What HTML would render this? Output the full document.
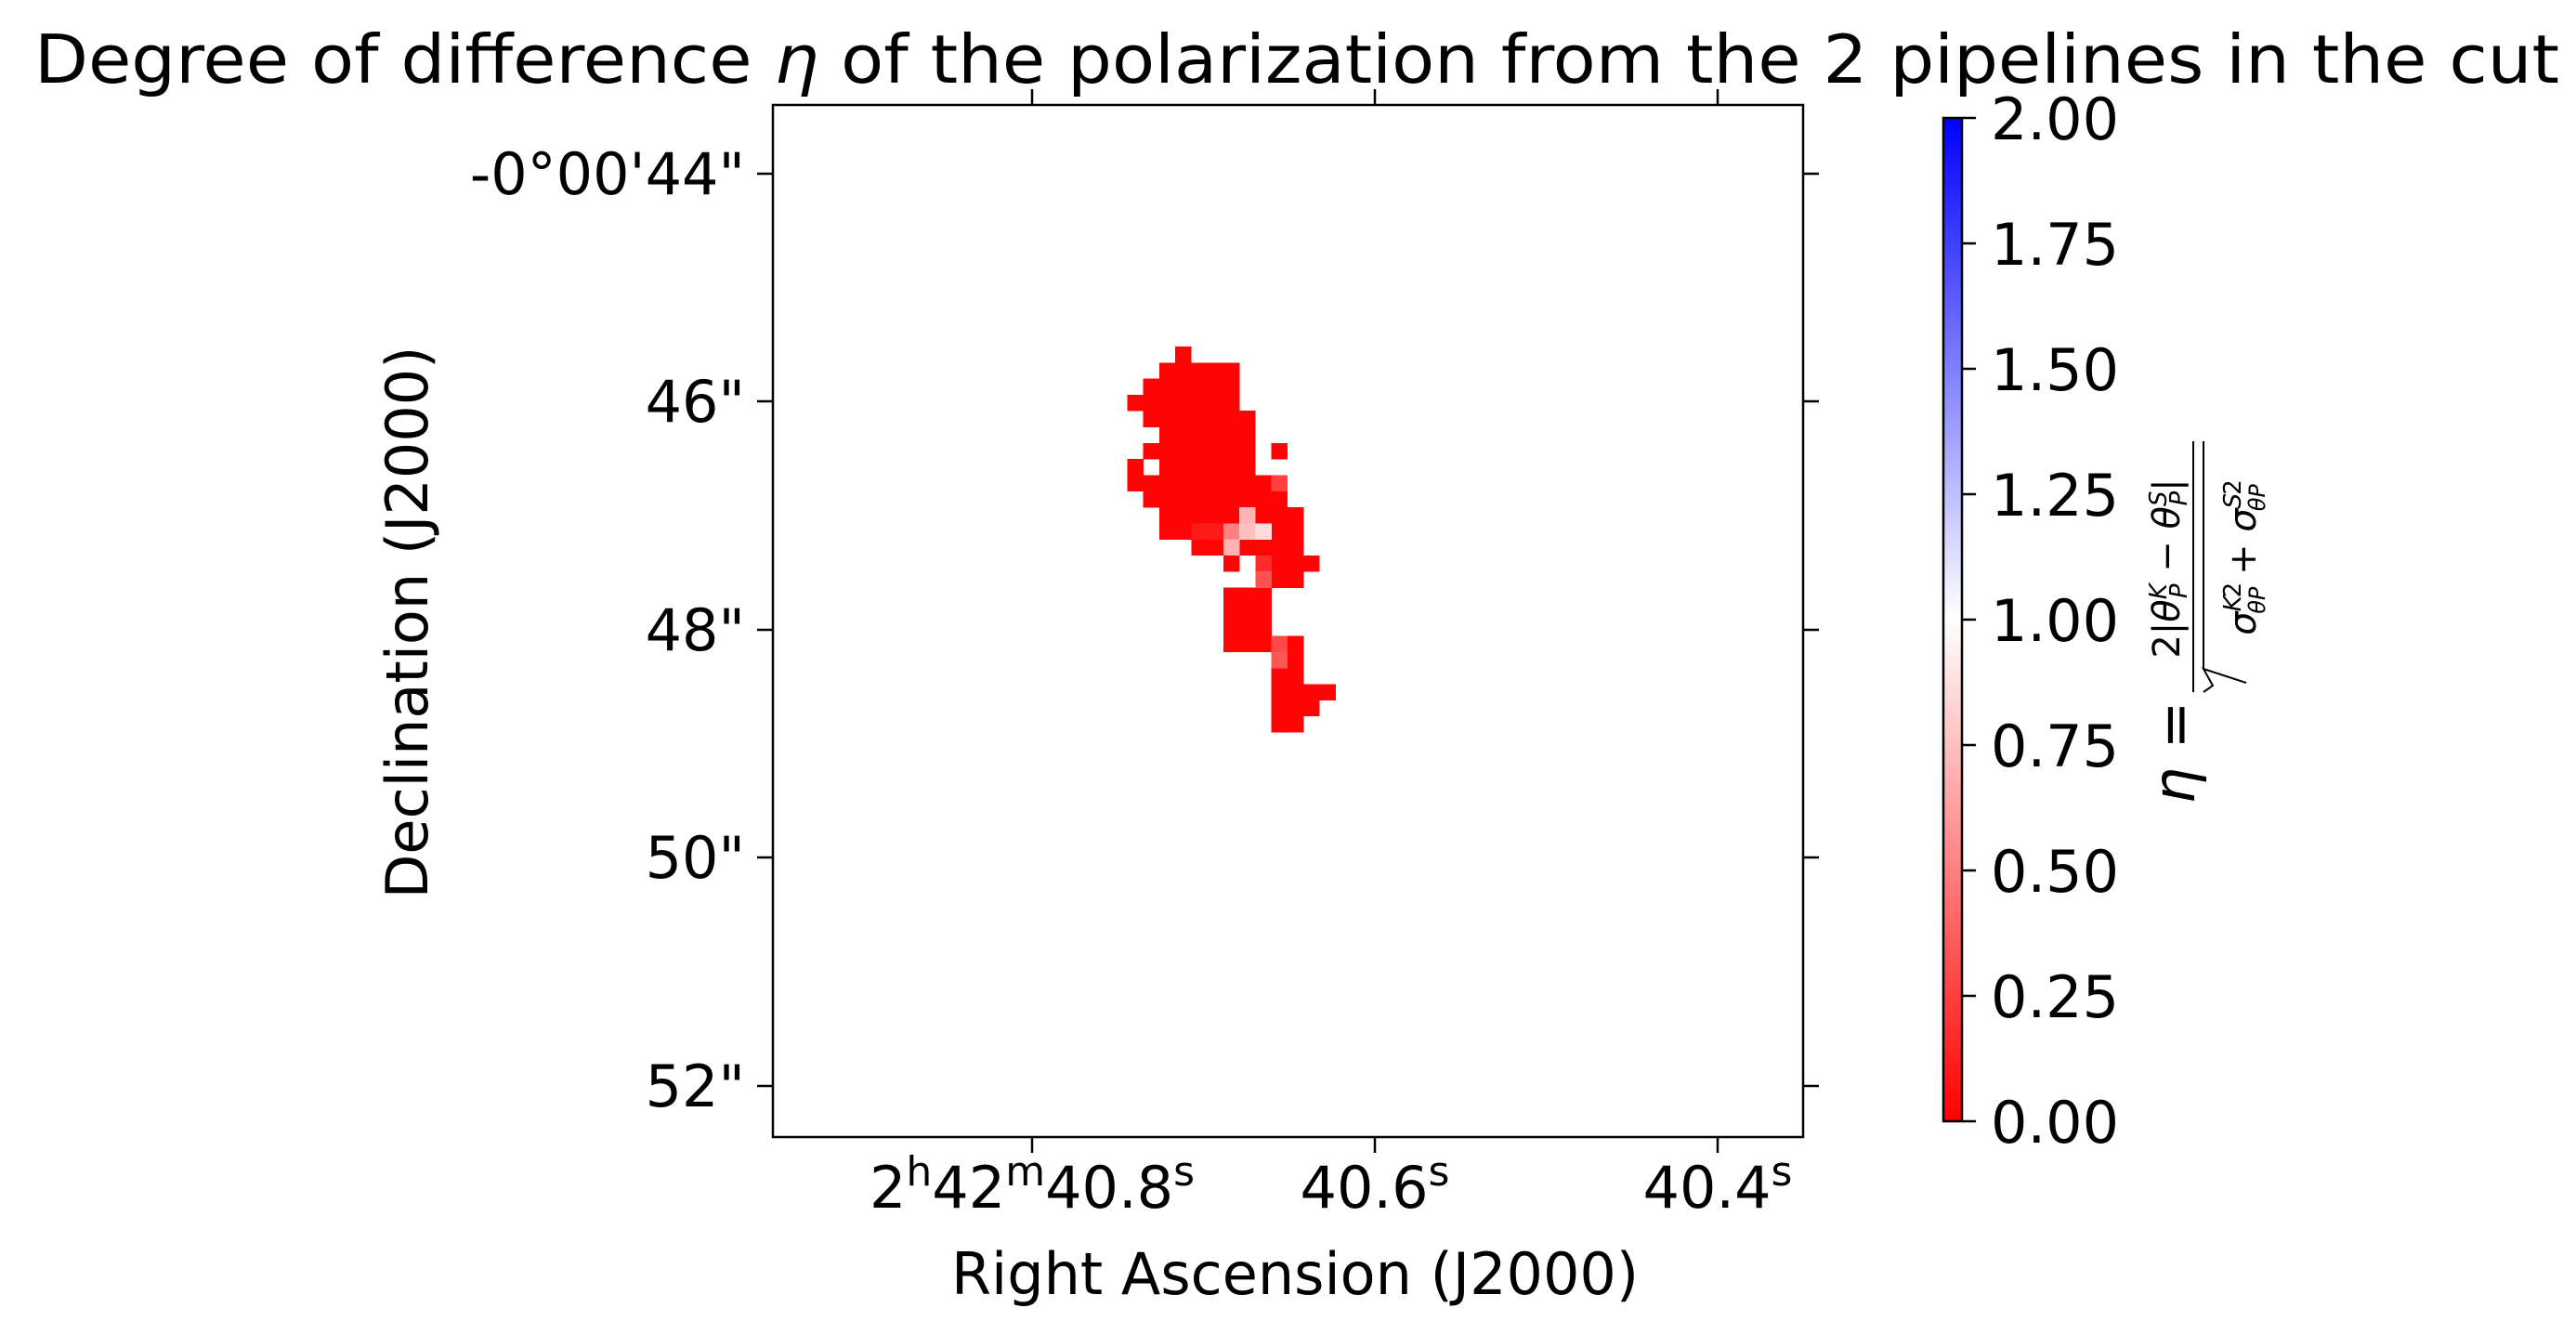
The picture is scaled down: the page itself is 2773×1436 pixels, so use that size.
<!DOCTYPE html>
<html><head><meta charset="utf-8"><style>
html,body{margin:0;padding:0;background:#fff}
svg{display:block}
text{font-family:"DejaVu Sans","Liberation Sans",sans-serif;fill:#000}
</style></head><body>
<svg width="2773" height="1436" viewBox="0 0 2773 1436" xmlns="http://www.w3.org/2000/svg">
<defs>
<linearGradient id="cb" x1="0" y1="1" x2="0" y2="0">
<stop offset="0" stop-color="#ff0000"/><stop offset="0.5" stop-color="#ffffff"/><stop offset="1" stop-color="#0000ff"/>
</linearGradient>
</defs>
<text x="1396" y="89" font-size="72" text-anchor="middle" textLength="2718" lengthAdjust="spacingAndGlyphs">Degree of difference <tspan font-style="italic">η</tspan> of the polarization from the 2 pipelines in the cut</text>

<!-- cells: x0=1213.3 step 17.25 ; y0=373 step 17.3 -->
<g fill="#fe0404" shape-rendering="crispEdges">
<rect x="1265" y="373" width="17.5" height="17.6"/>
<rect x="1247.8" y="390.3" width="86.5" height="17.6"/>
<rect x="1230.5" y="407.6" width="103.8" height="17.6"/>
<rect x="1213.3" y="424.9" width="121" height="17.6"/>
<rect x="1230.5" y="442.2" width="121" height="17.6"/>
<rect x="1247.8" y="459.5" width="103.8" height="17.6"/>
<rect x="1230.5" y="476.8" width="121" height="17.6"/>
<rect x="1368.6" y="476.8" width="17.5" height="17.6"/>
<rect x="1213.3" y="494.1" width="17.5" height="17.6"/>
<rect x="1247.8" y="494.1" width="103.8" height="17.6"/>
<rect x="1213.3" y="511.4" width="155.5" height="17.6"/>
<rect x="1230.5" y="528.7" width="155.5" height="17.6"/>
<rect x="1247.8" y="546" width="86.5" height="17.6"/>
<rect x="1351.3" y="546" width="52" height="17.6"/>
<rect x="1247.8" y="563.3" width="34.8" height="17.6"/>
<rect x="1368.6" y="563.3" width="34.8" height="17.6"/>
<rect x="1282.3" y="580.6" width="34.8" height="17.6"/>
<rect x="1334" y="580.6" width="69.3" height="17.6"/>
<rect x="1316.8" y="597.9" width="17.5" height="17.6"/>
<rect x="1368.6" y="597.9" width="52" height="17.6"/>
<rect x="1368.6" y="615.2" width="34.8" height="17.6"/>
<rect x="1316.8" y="632.5" width="52" height="69.5"/>
<rect x="1386" y="684.4" width="17.5" height="17.6"/>
<rect x="1386" y="701.7" width="17.5" height="17.6"/>
<rect x="1368.6" y="719" width="34.8" height="17.6"/>
<rect x="1368.6" y="736.3" width="69.3" height="17.6"/>
<rect x="1368.6" y="753.6" width="52" height="17.6"/>
<rect x="1368.6" y="770.9" width="34.8" height="17.6"/>
</g>
<g shape-rendering="crispEdges">
<rect x="1368.6" y="511.4" width="17.5" height="17.6" fill="#ff4040"/>
<rect x="1334" y="546" width="17.5" height="17.6" fill="#ffb3b3"/>
<rect x="1282.3" y="563.3" width="34.8" height="17.6" fill="#ff1a1a"/>
<rect x="1316.8" y="563.3" width="17.5" height="17.6" fill="#ff8080"/>
<rect x="1334" y="563.3" width="17.5" height="17.6" fill="#ffc0c0"/>
<rect x="1351.3" y="563.3" width="17.5" height="17.6" fill="#ffdcdc"/>
<rect x="1316.8" y="580.6" width="17.5" height="17.6" fill="#ffb3b3"/>
<rect x="1351.3" y="597.9" width="17.5" height="17.6" fill="#ff2a2a"/>
<rect x="1351.3" y="615.2" width="17.5" height="17.6" fill="#ff5050"/>
<rect x="1368.6" y="684.4" width="17.5" height="17.6" fill="#ff4848"/>
<rect x="1368.6" y="701.7" width="17.5" height="17.6" fill="#ff5555"/>
</g>

<!-- axes -->
<rect x="832" y="113" width="1109" height="1111" fill="none" stroke="#000" stroke-width="2.5"/>
<g stroke="#000" stroke-width="2.5">
<line x1="815" y1="187" x2="832" y2="187"/><line x1="1941" y1="187" x2="1958" y2="187"/>
<line x1="815" y1="432" x2="832" y2="432"/><line x1="1941" y1="432" x2="1958" y2="432"/>
<line x1="815" y1="678" x2="832" y2="678"/><line x1="1941" y1="678" x2="1958" y2="678"/>
<line x1="815" y1="923" x2="832" y2="923"/><line x1="1941" y1="923" x2="1958" y2="923"/>
<line x1="815" y1="1169" x2="832" y2="1169"/><line x1="1941" y1="1169" x2="1958" y2="1169"/>
<line x1="1111" y1="1224" x2="1111" y2="1241"/><line x1="1111" y1="96" x2="1111" y2="113"/>
<line x1="1480" y1="1224" x2="1480" y2="1241"/><line x1="1480" y1="96" x2="1480" y2="113"/>
<line x1="1849" y1="1224" x2="1849" y2="1241"/><line x1="1849" y1="96" x2="1849" y2="113"/>
</g>
<g font-size="62" text-anchor="end">
<text x="802" y="209">-0°00'44"</text>
<text x="802" y="454">46"</text>
<text x="802" y="700">48"</text>
<text x="802" y="945">50"</text>
<text x="802" y="1191">52"</text>
</g>
<g font-size="62" text-anchor="middle">
<text x="1111" y="1300">2<tspan font-size="44" dy="-24">h</tspan><tspan dy="24">42</tspan><tspan font-size="44" dy="-24">m</tspan><tspan dy="24">40.8</tspan><tspan font-size="44" dy="-24">s</tspan></text>
<text x="1480" y="1300">40.6<tspan font-size="44" dy="-24">s</tspan></text>
<text x="1849" y="1300">40.4<tspan font-size="44" dy="-24">s</tspan></text>
<text x="1394" y="1393">Right Ascension (J2000)</text>
<text transform="translate(460,670) rotate(-90)" x="0" y="0">Declination (J2000)</text>
</g>

<!-- colorbar -->
<rect x="2092" y="127" width="20" height="1080" fill="url(#cb)" stroke="#000" stroke-width="2.5"/>
<g stroke="#000" stroke-width="2.5">
<line x1="2112" y1="127" x2="2127" y2="127"/>
<line x1="2112" y1="262" x2="2127" y2="262"/>
<line x1="2112" y1="397" x2="2127" y2="397"/>
<line x1="2112" y1="532" x2="2127" y2="532"/>
<line x1="2112" y1="667" x2="2127" y2="667"/>
<line x1="2112" y1="802" x2="2127" y2="802"/>
<line x1="2112" y1="937" x2="2127" y2="937"/>
<line x1="2112" y1="1072" x2="2127" y2="1072"/>
<line x1="2112" y1="1207" x2="2127" y2="1207"/>
</g>
<g font-size="62">
<text x="2143" y="150">2.00</text>
<text x="2143" y="285">1.75</text>
<text x="2143" y="420">1.50</text>
<text x="2143" y="555">1.25</text>
<text x="2143" y="690">1.00</text>
<text x="2143" y="825">0.75</text>
<text x="2143" y="960">0.50</text>
<text x="2143" y="1095">0.25</text>
<text x="2143" y="1230">0.00</text>
</g>
<!-- colorbar label equation -->
<text transform="translate(2362,810) rotate(-90)" font-size="62" text-anchor="middle" font-style="italic">η <tspan font-style="normal">=</tspan></text>
<line x1="2361" y1="475" x2="2361" y2="745" stroke="#000" stroke-width="2"/>
<text transform="translate(2346,612) rotate(-90)" font-size="40" text-anchor="middle">2|<tspan font-style="italic">θ</tspan><tspan font-size="26" dy="-14" font-style="italic">K</tspan><tspan font-size="26" dx="-16" dy="22" font-style="italic">P</tspan><tspan dy="-8"> − </tspan><tspan font-style="italic">θ</tspan><tspan font-size="26" dy="-14" font-style="italic">S</tspan><tspan font-size="26" dx="-16" dy="22" font-style="italic">P</tspan><tspan dy="-8">|</tspan></text>
<polyline points="2418,735 2372,720 2382,738 2372,745" fill="none" stroke="#000" stroke-width="2" transform="rotate(0)"/>
<line x1="2372" y1="475" x2="2372" y2="720" stroke="#000" stroke-width="2"/>
<text transform="translate(2428,600) rotate(-90)" font-size="40" text-anchor="middle"><tspan font-style="italic">σ</tspan><tspan font-size="26" dy="-16" font-style="italic">K</tspan><tspan font-size="26" dx="-2">2</tspan><tspan font-size="24" dx="-34" dy="26" font-style="italic">θP</tspan><tspan dy="-10"> + </tspan><tspan font-style="italic">σ</tspan><tspan font-size="26" dy="-16" font-style="italic">S</tspan><tspan font-size="26" dx="-2">2</tspan><tspan font-size="24" dx="-34" dy="26" font-style="italic">θP</tspan></text>
</svg>
</body></html>
